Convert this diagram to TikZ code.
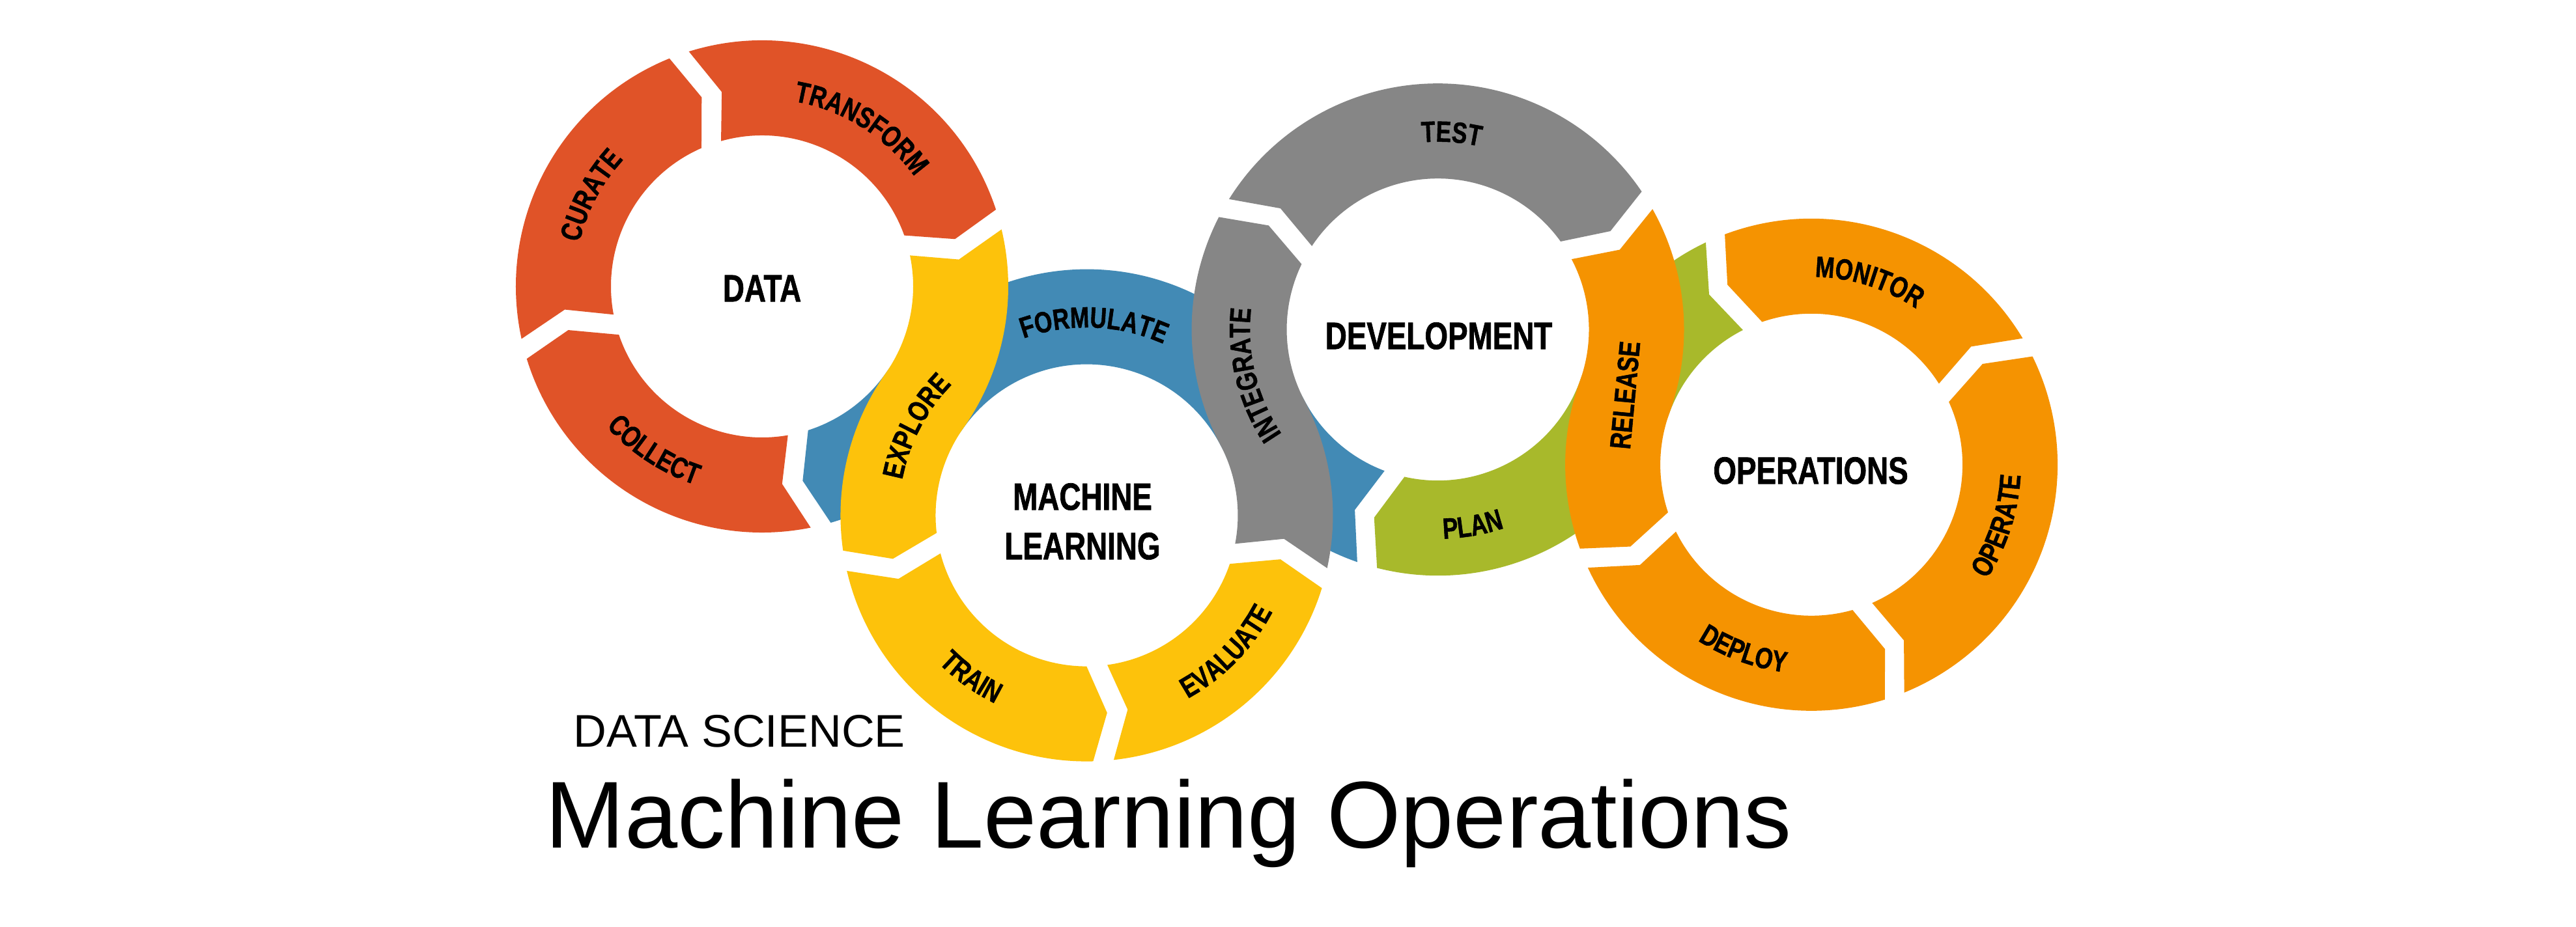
\documentclass[tikz,border=0pt]{standalone}
\usepackage{fontspec}
\newfontfamily\lab[FakeStretch=0.78,FakeBold=1.2]{Liberation Sans}
\newfontfamily\arial{Liberation Sans}
\usetikzlibrary{calc,decorations.text}
\definecolor{cRed}{HTML}{E05328}
\definecolor{cYellow}{HTML}{FDC20B}
\definecolor{cBlue}{HTML}{428AB5}
\definecolor{cGrey}{HTML}{868686}
\definecolor{cGreen}{HTML}{A8B92B}
\definecolor{cOrange}{HTML}{F59301}
\newcommand\labfont{\lab\bfseries\fontsize{12.8}{15}\selectfont}
\newcommand\labbig{\lab\bfseries\fontsize{16.7}{21.6}\selectfont}
% simple ring segment: color, center, theta a, theta b, direction s
\newcommand{\simpleseg}[5]{%
  \pgfmathsetmacro{\sgOA}{#3+(#5)*2.4}%
  \pgfmathsetmacro{\sgOB}{#4-(#5)*2.4}%
  \pgfmathsetmacro{\sgTB}{#4+(#5)*2}%
  \pgfmathsetmacro{\sgIB}{#4-(#5)*3.95}%
  \pgfmathsetmacro{\sgIA}{#3+(#5)*3.95}%
  \pgfmathsetmacro{\sgNA}{#3+(#5)*8}%
  \fill[#1] ($(#2)+(\sgOA:3.78)$) arc[start angle=\sgOA, end angle=\sgOB, radius=3.78]
    -- ($(#2)+(\sgTB:3.05)$) -- ($(#2)+(\sgIB:2.32)$)
    arc[start angle=\sgIB, end angle=\sgIA, radius=2.32]
    -- ($(#2)+(\sgNA:3.05)$) -- cycle;}
% S segment: color, A, B, theta a, cA, cB, theta b, sA
\newcommand{\sseg}[8]{%
  \pgfmathsetmacro{\sgOA}{#4+(#8)*2.4}%
  \pgfmathsetmacro{\sgIB}{#7+(#8)*3.95}%
  \pgfmathsetmacro{\sgTB}{#7-(#8)*2}%
  \pgfmathsetmacro{\sgOB}{#7+(#8)*2.4}%
  \pgfmathsetmacro{\sgIA}{#4+(#8)*3.95}%
  \pgfmathsetmacro{\sgNA}{#4+(#8)*8}%
  \fill[#1] ($(#2)+(\sgOA:3.78)$) arc[start angle=\sgOA, end angle=#5, radius=3.78]
    arc[start angle=#6, end angle=\sgIB, radius=2.32]
    -- ($(#3)+(\sgTB:3.05)$) -- ($(#3)+(\sgOB:3.78)$)
    arc[start angle=\sgOB, end angle=#6, radius=3.78]
    arc[start angle=#5, end angle=\sgIA, radius=2.32]
    -- ($(#2)+(\sgNA:3.05)$) -- cycle;}
\newcommand{\cwlabel}[3]{%
  \pgfmathsetmacro{\lbS}{#2+50}\pgfmathsetmacro{\lbE}{#2-50}%
  \path[decorate, decoration={text along path, text align=center, text={|\labfont|#3}}]
    ($(#1)+(\lbS:2.885)$) arc[start angle=\lbS, end angle=\lbE, radius=2.885];}
\newcommand{\ccwlabel}[3]{%
  \pgfmathsetmacro{\lbS}{#2-50}\pgfmathsetmacro{\lbE}{#2+50}%
  \path[decorate, decoration={text along path, text align=center, text={|\labfont|#3}}]
    ($(#1)+(\lbS:3.215)$) arc[start angle=\lbS, end angle=\lbE, radius=3.215];}
\begin{document}
\begin{tikzpicture}
\fill[white] (0,0) rectangle (39.55,-14.24);
\useasboundingbox (0,0) rectangle (39.55,-14.24);
\coordinate (D) at (11.70,-4.40);
\coordinate (M) at ($(D)+(-35.2:6.10)$);
\coordinate (V) at ($(M)+(27.9:6.10)$);
\coordinate (O) at ($(V)+(-19.9:6.10)$);
% DATA ring
\simpleseg{cRed}{D}{283.8}{194.7}{-1}
\simpleseg{cRed}{D}{194.7}{109.7}{-1}
\simpleseg{cRed}{D}{109.7}{15.8}{-1}
% FORMULATE (blue)
\fill[cBlue] ($(V)+(250.9:3.78)$) arc[start angle=250.9,end angle=207.9,radius=3.78]
  arc[start angle=27.9,end angle=144.8,radius=2.32]
  arc[start angle=324.8,end angle=286.2,radius=3.78]
  -- ($(D)+(281.8:3.05)$) -- ($(D)+(287.75:2.32)$)
  arc[start angle=287.75,end angle=324.8,radius=2.32]
  arc[start angle=144.8,end angle=27.9,radius=3.78]
  arc[start angle=207.9,end angle=249.35,radius=2.32]
  -- ($(V)+(245.3:3.05)$) -- cycle;
% ML ring
\sseg{cYellow}{D}{M}{15.8}{-35.2}{144.8}{190.65}{-1}
\simpleseg{cYellow}{M}{190.65}{273.9}{1}
\simpleseg{cYellow}{M}{273.9}{345.2}{1}
% Development
\sseg{cGrey}{M}{V}{345.2}{387.9}{207.9}{150.4}{1}
\simpleseg{cGrey}{V}{150.4}{31.7}{-1}
\sseg{cGreen}{O}{V}{113}{160.1}{340.1}{253.3}{1}
% Operations
\sseg{cOrange}{V}{O}{31.7}{-19.9}{160.1}{202.35}{-1}
\simpleseg{cOrange}{O}{202.35}{289.75}{1}
\simpleseg{cOrange}{O}{289.75}{388.5}{1}
\simpleseg{cOrange}{O}{388.5}{473}{1}
% segment labels
\cwlabel{D}{58}{TRANSFORM}
\cwlabel{D}{152}{CURATE}
\ccwlabel{D}{236.7}{COLLECT}
\cwlabel{M}{152.5}{EXPLORE}
\cwlabel{M}{87.8}{FORMULATE}
\ccwlabel{M}{234.5}{TRAIN}
\ccwlabel{M}{315.7}{EVALUATE}
\cwlabel{V}{86}{TEST}
\cwlabel{V}{193.7}{INTEGRATE}
\ccwlabel{V}{280}{PLAN}
\cwlabel{O}{72.5}{MONITOR}
\ccwlabel{O}{342}{OPERATE}
\ccwlabel{O}{250}{DEPLOY}
\node[font=\labfont, rotate=84.6] (release) at (24.95,-6.07) {RELEASE};
% centre labels
\node[font=\labbig] (data) at (11.70,-4.43) {DATA};
\node[font=\labbig, align=center] (ml) at (16.62,-8.01) {MACHINE\\LEARNING};
\node[font=\labbig] (dev) at (22.09,-5.16) {DEVELOPMENT};
\node[font=\labbig] (ops) at (27.80,-7.23) {OPERATIONS};
% titles
\node[anchor=base west, inner sep=0pt, font=\arial\fontsize{20}{24}\selectfont] (ds) at (8.80,-11.47) {DATA SCIENCE};
\node[anchor=base west, inner sep=0pt, font=\arial\fontsize{41.5}{48}\selectfont] (title) at (8.37,-13.02) {Machine Learning Operations};
\end{tikzpicture}
\end{document}
